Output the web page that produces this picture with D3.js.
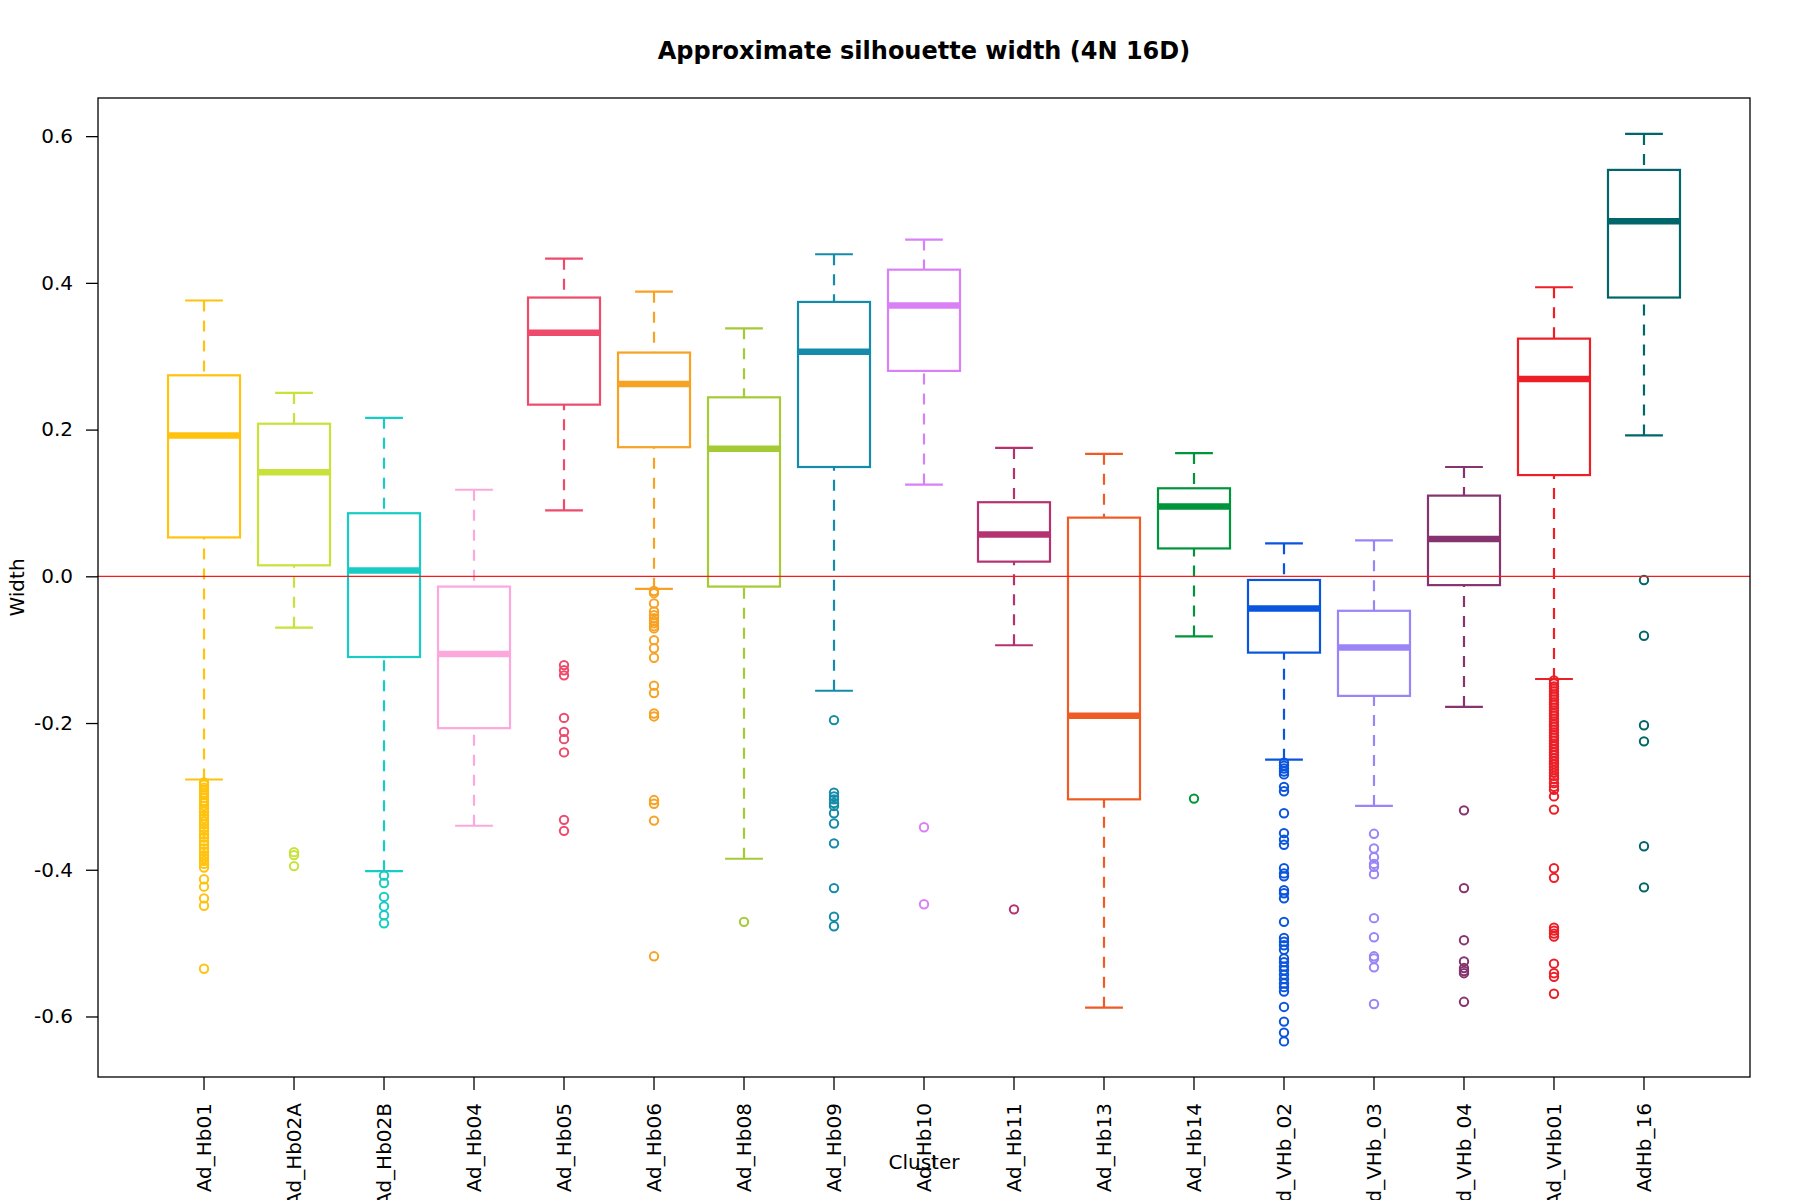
<!DOCTYPE html>
<html>
<head>
<meta charset="utf-8">
<script src="https://cdn.jsdelivr.net/npm/d3@7"></script>
<style>
  body { margin: 0; background: #fff; }
  svg { display: block; font-family: "DejaVu Sans", sans-serif; }
</style>
</head>
<body>
<svg id="chart" width="1800" height="1200"></svg>
<script>
// values
const clusters = ["Ad_Hb01", "Ad_Hb02A", "Ad_Hb02B", "Ad_Hb04", "Ad_Hb05", "Ad_Hb06", "Ad_Hb08", "Ad_Hb09",
  "Ad_Hb10", "Ad_Hb11", "Ad_Hb13", "Ad_Hb14", "Ad_VHb_02", "Ad_VHb_03", "Ad_VHb_04", "Ad_VHb01", "AdHb_16"];

const colors = ["#ffc20e", "#c8e23a", "#17ccc4", "#fca8dc", "#ee4a6b", "#f7a224", "#a4ca35", "#158ba9",
  "#da80f7", "#b43270", "#f05a24", "#00953a", "#0a55dd", "#9a84f7", "#86346f", "#ec1f27", "#00666a"];

const whiskerHigh = [0.376, 0.250, 0.216, 0.118, 0.433, 0.388, 0.338, 0.439, 0.459, 0.175, 0.167, 0.168, 0.045, 0.049, 0.149, 0.394, 0.603];
const q3          = [0.274, 0.208, 0.086, -0.014, 0.380, 0.305, 0.244, 0.374, 0.418, 0.101, 0.080, 0.120, -0.005, -0.047, 0.110, 0.324, 0.554];
const medians     = [0.192, 0.142, 0.008, -0.106, 0.332, 0.262, 0.174, 0.306, 0.369, 0.057, -0.190, 0.095, -0.044, -0.097, 0.051, 0.269, 0.484];
const q1          = [0.053, 0.015, -0.110, -0.207, 0.234, 0.176, -0.014, 0.149, 0.280, 0.020, -0.304, 0.038, -0.104, -0.163, -0.012, 0.138, 0.380];
const whiskerLow  = [-0.277, -0.070, -0.402, -0.340, 0.090, -0.017, -0.385, -0.156, 0.125, -0.094, -0.588, -0.082, -0.250, -0.313, -0.178, -0.140, 0.192];

const outliers = [
  [-0.281, -0.284, -0.288, -0.291, -0.295, -0.298, -0.302, -0.306, -0.309, -0.313, -0.317, -0.321, -0.326, -0.330,
   -0.334, -0.338, -0.343, -0.347, -0.352, -0.356, -0.361, -0.366, -0.371, -0.375, -0.380, -0.384, -0.388, -0.392,
   -0.397, -0.413, -0.423, -0.439, -0.449, -0.535],
  [-0.376, -0.380, -0.395],
  [-0.408, -0.418, -0.437, -0.450, -0.462, -0.473],
  [],
  [-0.121, -0.128, -0.135, -0.193, -0.212, -0.222, -0.240, -0.332, -0.347],
  [-0.020, -0.023, -0.037, -0.048, -0.053, -0.057, -0.061, -0.064, -0.068, -0.071, -0.087, -0.098, -0.111,
   -0.149, -0.159, -0.187, -0.191, -0.305, -0.310, -0.333, -0.518],
  [-0.471],
  [-0.196, -0.295, -0.300, -0.304, -0.309, -0.313, -0.323, -0.337, -0.364, -0.425, -0.464, -0.477],
  [-0.342, -0.447],
  [-0.454],
  [],
  [-0.303],
  [-0.254, -0.258, -0.262, -0.266, -0.270, -0.287, -0.293, -0.323, -0.350, -0.359, -0.366, -0.398, -0.405, -0.409,
   -0.428, -0.432, -0.439, -0.471, -0.493, -0.498, -0.503, -0.509, -0.521, -0.526, -0.532, -0.537, -0.543, -0.549,
   -0.555, -0.560, -0.566, -0.587, -0.607, -0.622, -0.634],
  [-0.351, -0.371, -0.383, -0.392, -0.396, -0.406, -0.466, -0.492, -0.518, -0.521, -0.533, -0.583],
  [-0.319, -0.425, -0.496, -0.525, -0.534, -0.538, -0.541, -0.580],
  [-0.142, -0.146, -0.150, -0.153, -0.157, -0.161, -0.164, -0.168, -0.172, -0.175, -0.179, -0.183, -0.187, -0.190,
   -0.194, -0.198, -0.202, -0.205, -0.209, -0.213, -0.217, -0.220, -0.224, -0.228, -0.232, -0.236, -0.240, -0.244,
   -0.248, -0.252, -0.256, -0.260, -0.264, -0.268, -0.272, -0.276, -0.282, -0.287, -0.291, -0.300, -0.318,
   -0.398, -0.411, -0.479, -0.483, -0.487, -0.491, -0.528, -0.541, -0.546, -0.569],
  [-0.005, -0.081, -0.203, -0.225, -0.368, -0.424]
];

const yTicks = [-0.6, -0.4, -0.2, 0.0, 0.2, 0.4, 0.6];

const svg = d3.select("#chart");
const W = 1800, H = 1200;
const margin = { top: 98, right: 50, bottom: 123, left: 98 };
const plotW = W - margin.left - margin.right;
const plotH = H - margin.top - margin.bottom;
const fontSize = 20;

svg.append("rect").attr("width", W).attr("height", H).attr("fill", "#fff");

const g = svg.append("g").attr("transform", `translate(${margin.left},${margin.top})`);

const x = d3.scaleBand().domain(clusters).range([0, plotW]).paddingInner(0.2).paddingOuter(0.778);
const y = d3.scaleLinear().domain([-0.6825, 0.652]).range([plotH, 0]);

const bw = x.bandwidth();
const cap = x.step() * 0.21;
const cx = c => x(c) + bw / 2;

// axes
const yAxis = g.append("g")
  .call(d3.axisLeft(y).tickValues(yTicks).tickSize(12).tickPadding(13).tickFormat(d => d.toFixed(1)));
yAxis.select(".domain").remove();
yAxis.selectAll("line").attr("stroke", "#000").attr("stroke-width", 1.3);
yAxis.selectAll("text").attr("font-size", fontSize).attr("font-family", "DejaVu Sans").attr("fill", "#000");

const xAxis = g.append("g")
  .attr("transform", `translate(0,${plotH})`)
  .call(d3.axisBottom(x).tickSize(13));
xAxis.select(".domain").remove();
xAxis.selectAll("line").attr("stroke", "#000").attr("stroke-width", 1.3);
xAxis.selectAll("text")
  .attr("font-size", fontSize).attr("font-family", "DejaVu Sans").attr("fill", "#000")
  .attr("transform", "rotate(-90)")
  .attr("text-anchor", "end")
  .attr("x", -26).attr("y", 0).attr("dy", "0.35em");

// boxes
const boxes = g.selectAll(".box").data(clusters).join("g").attr("class", "box");

boxes.each(function(c, i) {
  const b = d3.select(this);
  const col = colors[i];
  const m = cx(c);

  b.append("line")
    .attr("x1", m).attr("x2", m).attr("y1", y(whiskerHigh[i])).attr("y2", y(q3[i]))
    .attr("stroke", col).attr("stroke-width", 2.2).attr("stroke-dasharray", "11,9");
  b.append("line")
    .attr("x1", m).attr("x2", m).attr("y1", y(whiskerLow[i])).attr("y2", y(q1[i]))
    .attr("stroke", col).attr("stroke-width", 2.2).attr("stroke-dasharray", "11,9");

  [whiskerHigh[i], whiskerLow[i]].forEach(v => {
    b.append("line")
      .attr("x1", m - cap).attr("x2", m + cap).attr("y1", y(v)).attr("y2", y(v))
      .attr("stroke", col).attr("stroke-width", 2.2);
  });

  b.append("rect")
    .attr("x", m - bw / 2).attr("width", bw)
    .attr("y", y(q3[i])).attr("height", y(q1[i]) - y(q3[i]))
    .attr("fill", "none").attr("stroke", col).attr("stroke-width", 2.2);

  b.append("line")
    .attr("x1", m - bw / 2).attr("x2", m + bw / 2).attr("y1", y(medians[i])).attr("y2", y(medians[i]))
    .attr("stroke", col).attr("stroke-width", 6.5);

  b.selectAll("circle").data(outliers[i]).join("circle")
    .attr("cx", m).attr("cy", d => y(d)).attr("r", 4.2)
    .attr("fill", "none").attr("stroke", col).attr("stroke-width", 2);
});

// reference line at zero
g.append("line")
  .attr("x1", 0).attr("x2", plotW).attr("y1", y(0)).attr("y2", y(0))
  .attr("stroke", "#f21c1c").attr("stroke-width", 1.3);

// frame
g.append("rect").attr("width", plotW).attr("height", plotH)
  .attr("fill", "none").attr("stroke", "#000").attr("stroke-width", 1.3);

// titles
svg.append("text")
  .attr("x", margin.left + plotW / 2).attr("y", 59)
  .attr("text-anchor", "middle").attr("font-size", 24).attr("font-weight", "bold")
  .text("Approximate silhouette width (4N 16D)");

svg.append("text")
  .attr("x", margin.left + plotW / 2).attr("y", 1169)
  .attr("text-anchor", "middle").attr("font-size", fontSize)
  .text("Cluster");

svg.append("text")
  .attr("transform", `translate(23.5,${margin.top + plotH / 2}) rotate(-90)`)
  .attr("text-anchor", "middle").attr("font-size", fontSize)
  .text("Width");
</script>
</body>
</html>
